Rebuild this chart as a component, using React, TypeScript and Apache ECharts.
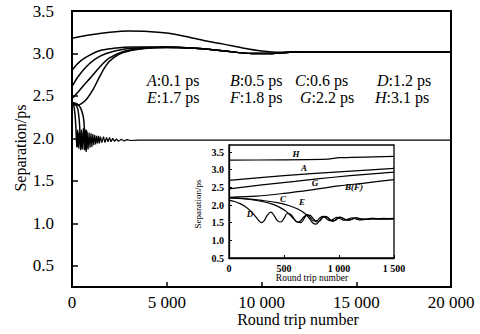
import React, { useEffect, useRef } from "react";
import * as echarts from "echarts";

const SERIF = "'Liberation Serif', 'Times New Roman', Times, 'DejaVu Serif', serif";

// ---------- tick values ----------
const mainYTicks = [0.5, 1.0, 1.5, 2.0, 2.5, 3.0, 3.5];
const insetYTicks = [0.5, 1.0, 1.5, 2.0, 2.5, 3.0, 3.5];

// ---------- main plot data (round trip number, separation ps) ----------
const mainTail = [[6500, 3.06], [8000, 3.03], [9500, 3.0], [10500, 3.0], [11500, 3.015], [12500, 3.02], [20000, 3.02]];
const mainH = [[0, 3.18], [1000, 3.22], [2000, 3.25], [3000, 3.265], [4000, 3.26], [5000, 3.24], [6000, 3.2], [7000, 3.15], [8000, 3.11], [9000, 3.065], [10000, 3.03], [11000, 3.015], [12000, 3.02], [20000, 3.02]];
const mainA = [[0, 2.8], [300, 2.88], [700, 2.95], [1400, 3.03], [2200, 3.06], [3200, 3.075], [5000, 3.075]];
const mainG = [[0, 2.61], [300, 2.72], [740, 2.84], [1200, 2.93], [1800, 3.0], [2850, 3.055], [4000, 3.07], [5000, 3.075]];
const mainB = [[0, 2.47], [300, 2.54], [600, 2.62], [1000, 2.72], [1500, 2.85], [2000, 2.95], [2800, 3.03], [3800, 3.06], [5000, 3.07]];
const mainF = [[0, 2.41], [250, 2.39], [500, 2.41], [800, 2.47], [1100, 2.57], [1400, 2.7], [1800, 2.86], [2200, 2.95], [2700, 3.01], [3700, 3.055], [5000, 3.07]];
const mainD = [[0, 2.42], [80, 2.4], [150, 2.3], [200, 2.15], [230, 2.0], [260, 1.9], [290, 2.08], [320, 1.9], [350, 2.06]];
const mainC = [[0, 2.42], [150, 2.41], [300, 2.35], [380, 2.22], [420, 2.08], [450, 1.96], [480, 1.88], [510, 2.08], [540, 1.9]];
const mainE = [[0, 2.42], [250, 2.41], [450, 2.36], [600, 2.25], [660, 2.1], [700, 1.96], [730, 1.86], [760, 2.1], [790, 1.88]];
const mainRing = [
  [250, 1.9], [300, 2.1], [350, 1.88], [400, 2.08], [450, 1.86], [500, 2.1], [550, 1.87], [600, 2.12],
  [650, 1.86], [700, 2.1], [750, 1.84], [800, 2.08], [850, 1.87], [900, 2.07], [950, 1.89], [1000, 2.06],
  [1050, 1.9], [1100, 2.05], [1150, 1.92], [1200, 2.04], [1250, 1.93], [1300, 2.03], [1350, 1.94], [1400, 2.03],
  [1450, 1.94], [1500, 2.02], [1580, 1.95], [1660, 2.02], [1740, 1.95], [1820, 2.01], [1900, 1.96], [1980, 2.01],
  [2060, 1.96], [2150, 2.0], [2250, 1.965], [2350, 1.995], [2450, 1.965], [2600, 1.99], [2750, 1.97], [2900, 1.985],
  [3100, 1.975], [3500, 1.98], [20000, 1.98]
];

// ---------- inset data ----------
const insetH = [[0, 3.27], [500, 3.28], [900, 3.3], [1000, 3.34], [1500, 3.38]];
const insetA = [[0, 2.7], [500, 2.83], [1000, 2.94], [1500, 3.04]];
const insetG = [[0, 2.46], [300, 2.57], [600, 2.67], [800, 2.74], [1100, 2.83], [1500, 2.93]];
const insetBF = [[0, 2.22], [250, 2.25], [500, 2.33], [750, 2.43], [1000, 2.54], [1250, 2.63], [1500, 2.72]];
const insetD = [[0, 2.13], [50, 2.1], [100, 2.04], [150, 1.95], [200, 1.82], [240, 1.68], [270, 1.56], [295, 1.5], [320, 1.56], [350, 1.72], [380, 1.8], [410, 1.7], [440, 1.56], [470, 1.52], [500, 1.62], [530, 1.76], [560, 1.74], [590, 1.62], [620, 1.52], [650, 1.55], [680, 1.66], [710, 1.72], [740, 1.64], [770, 1.55], [800, 1.56], [830, 1.65], [860, 1.68], [890, 1.6], [920, 1.56], [950, 1.6], [980, 1.65], [1010, 1.62], [1040, 1.57], [1080, 1.6], [1120, 1.64], [1160, 1.6], [1200, 1.58], [1300, 1.62], [1400, 1.6], [1500, 1.61]];
const insetC = [[0, 2.2], [150, 2.17], [300, 2.1], [400, 2.02], [470, 1.92], [520, 1.82], [560, 1.7], [590, 1.6], [620, 1.52], [650, 1.5], [680, 1.6], [710, 1.72], [740, 1.7], [770, 1.6], [800, 1.52], [830, 1.56], [860, 1.66], [890, 1.66], [920, 1.58], [950, 1.55], [980, 1.6], [1010, 1.66], [1040, 1.62], [1080, 1.57], [1120, 1.6], [1160, 1.64], [1200, 1.6], [1300, 1.6], [1400, 1.62], [1500, 1.61]];
const insetE = [[0, 2.2], [150, 2.18], [300, 2.13], [450, 2.06], [550, 1.98], [630, 1.88], [690, 1.76], [730, 1.62], [760, 1.5], [790, 1.46], [820, 1.55], [850, 1.66], [880, 1.68], [910, 1.6], [940, 1.54], [970, 1.58], [1000, 1.65], [1030, 1.64], [1060, 1.58], [1100, 1.58], [1150, 1.64], [1200, 1.61], [1250, 1.59], [1300, 1.62], [1400, 1.61], [1500, 1.62]];

// ---------- texts ----------
const legendLetters = ["A", "B", "C", "D", "E", "F", "G", "H"];
const legendValues = ["0.1", "0.5", "0.6", "1.2", "1.7", "1.8", "2.2", "3.1"];
const insetLabelTexts = ["H", "A", "G", "B(F)", "E", "C", "D"];

const legendPos = [[147, 80], [230, 80], [295, 80], [377, 80], [147, 97], [230, 97], [300, 97], [375, 97]];
const insetLabelPos = [[296, 154], [304, 168], [315, 183], [354, 187], [302, 202], [283, 199], [250, 214]];

function fmtRounds(v: number): string {
  if (v >= 1000) {
    return Math.floor(v / 1000) + " " + String(v % 1000).padStart(3, "0");
  }
  return String(v);
}

function line(data: number[][], idx: number, width: number, smooth: number | boolean) {
  return {
    type: "line",
    data,
    xAxisIndex: idx,
    yAxisIndex: idx,
    symbol: "none",
    smooth,
    silent: true,
    lineStyle: { color: "#000", width },
    z: 3,
  };
}

export default function App() {
  const ref = useRef<HTMLDivElement>(null);
  useEffect(() => {
    const chart = echarts.init(ref.current!, null, { renderer: "svg" });
    const option: any = {
      animation: false,
      textStyle: { fontFamily: SERIF },
      grid: [
        { left: 72, top: 11, right: 29, bottom: 47, show: true, borderColor: "#000", borderWidth: 2, backgroundColor: "transparent" },
        { left: 229, top: 145, right: 86, bottom: 76, show: true, borderColor: "#000", borderWidth: 1.3, backgroundColor: "#fff", z: 4 },
      ],
      xAxis: [
        {
          gridIndex: 0, type: "value", min: 0, max: 20000, interval: 5000,
          axisLine: { show: true, lineStyle: { color: "#000", width: 2 } },
          axisTick: { show: true, inside: true, length: 5, lineStyle: { color: "#000", width: 1.5 } },
          axisLabel: { margin: 7, fontSize: 17, fontFamily: SERIF, color: "#000", formatter: (v: number) => fmtRounds(v) },
          splitLine: { show: false },
        },
        {
          gridIndex: 1, type: "value", min: 0, max: 1500, interval: 500, z: 5,
          axisLine: { show: true, lineStyle: { color: "#000", width: 1.3 } },
          axisTick: { show: true, inside: true, length: 3, lineStyle: { color: "#000", width: 1 } },
          axisLabel: { margin: 5, fontSize: 10, fontWeight: "bold", fontFamily: SERIF, color: "#000", formatter: (v: number) => fmtRounds(v) },
          splitLine: { show: false },
        },
      ],
      yAxis: [
        {
          gridIndex: 0, type: "value", min: 0.25, max: 3.5,
          axisLine: { show: true, lineStyle: { color: "#000", width: 2 } },
          axisTick: { show: true, inside: true, length: 6, customValues: mainYTicks, lineStyle: { color: "#000", width: 1.5 } },
          axisLabel: { margin: 18, fontSize: 17, fontFamily: SERIF, color: "#000", customValues: mainYTicks, padding: [10, 0, 0, 0], formatter: (v: number) => v.toFixed(1) },
          splitLine: { show: false },
        },
        {
          gridIndex: 1, type: "value", min: 0.5, max: 3.7, z: 5,
          axisLine: { show: true, lineStyle: { color: "#000", width: 1.3 } },
          axisTick: { show: true, inside: true, length: 3, customValues: insetYTicks, lineStyle: { color: "#000", width: 1 } },
          axisLabel: { margin: 5, fontSize: 10, fontWeight: "bold", fontFamily: SERIF, color: "#000", customValues: insetYTicks, formatter: (v: number) => v.toFixed(1) },
          splitLine: { show: false },
        },
      ],
      series: [
        line(mainH, 0, 1.5, 0.3),
        line(mainA.concat(mainTail), 0, 1.5, 0.3),
        line(mainG.concat(mainTail), 0, 1.5, 0.3),
        line(mainB.concat(mainTail), 0, 1.5, 0.3),
        line(mainF.concat(mainTail), 0, 1.5, 0.3),
        line(mainD, 0, 1.5, 0.2),
        line(mainC, 0, 1.5, 0.2),
        line(mainE, 0, 1.5, 0.2),
        line(mainRing, 0, 1.2, false),
        { ...line(insetH, 1, 1.2, 0.2), z: 6 },
        { ...line(insetA, 1, 1.2, 0.3), z: 6 },
        { ...line(insetG, 1, 1.2, 0.3), z: 6 },
        { ...line(insetBF, 1, 1.2, 0.3), z: 6 },
        { ...line(insetD, 1, 1.2, 0.4), z: 6 },
        { ...line(insetC, 1, 1.2, 0.4), z: 6 },
        { ...line(insetE, 1, 1.2, 0.4), z: 6 },
      ],
      graphic: [
        ...legendLetters.map((l, i) => ({
          type: "text", x: legendPos[i][0], y: legendPos[i][1], z: 10,
          style: {
            text: "{i|" + l + "}{n|:" + legendValues[i] + " ps}",
            fontSize: 16, fontFamily: SERIF, fill: "#000", verticalAlign: "middle", lineHeight: 14,
            rich: {
              i: { fontStyle: "italic", fontSize: 16, fontFamily: SERIF, lineHeight: 14 },
              n: { fontSize: 16, fontFamily: SERIF, lineHeight: 14 },
            },
          },
        })),
        ...insetLabelTexts.map((t, i) => ({
          type: "text", x: insetLabelPos[i][0], y: insetLabelPos[i][1], z: 10,
          style: { text: t, fontSize: 9, fontStyle: "italic", fontWeight: "bold", fontFamily: SERIF, fill: "#000", align: "center", verticalAlign: "middle" },
        })),
        {
          type: "text", x: 298, y: 319, z: 10,
          style: { text: "Round trip number", fontSize: 16, fontFamily: SERIF, fill: "#000", align: "center", verticalAlign: "middle" },
        },
        {
          type: "text", x: 20, y: 148, rotation: Math.PI / 2, z: 10,
          style: { text: "Separation/ps", fontSize: 16, fontFamily: SERIF, fill: "#000", align: "center", verticalAlign: "middle" },
        },
        {
          type: "text", x: 312, y: 278, z: 10,
          style: { text: "Round trip number", fontSize: 9.5, fontFamily: SERIF, fill: "#000", align: "center", verticalAlign: "middle" },
        },
        {
          type: "text", x: 198, y: 204, rotation: Math.PI / 2, z: 10,
          style: { text: "Separation/ps", fontSize: 9, fontFamily: SERIF, fill: "#000", align: "center", verticalAlign: "middle" },
        },
      ],
    };
    chart.setOption(option);
    return () => chart.dispose();
  }, []);
  return <div ref={ref} style={{ width: 480, height: 334, position: "absolute", left: 0, top: 0, background: "#fff" }} />;
}
